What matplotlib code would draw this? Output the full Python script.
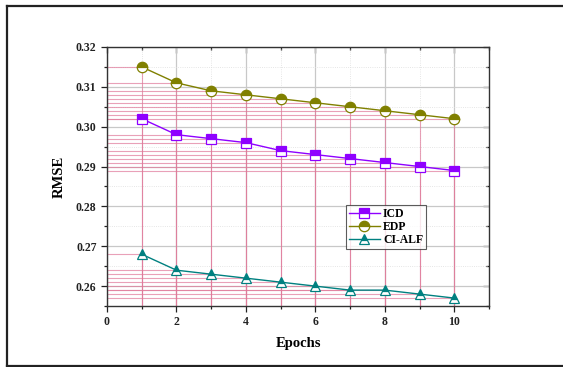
import matplotlib
matplotlib.use("Agg")
from matplotlib import pyplot as plt
from matplotlib.lines import Line2D
from matplotlib.ticker import MultipleLocator

epochs = [1, 2, 3, 4, 5, 6, 7, 8, 9, 10]
icd = [0.302, 0.298, 0.297, 0.296, 0.294, 0.293, 0.292, 0.291, 0.290, 0.289]
edp = [0.315, 0.311, 0.309, 0.308, 0.307, 0.306, 0.305, 0.304, 0.303, 0.302]
cialf = [0.268, 0.264, 0.263, 0.262, 0.261, 0.260, 0.259, 0.259, 0.258, 0.257]

series = [
    ("ICD", icd, "#8f00ff", "s", 6.5),
    ("EDP", edp, "#808000", "o", 7.5),
    ("CI-ALF", cialf, "#008080", "^", 7.5),
]

plt.rcParams["font.family"] = ["Liberation Serif", "DejaVu Serif"]
plt.rcParams["font.weight"] = "bold"

fig = plt.figure(figsize=(5.63, 3.67), dpi=100)
ax = fig.add_axes([0.190, 0.166, 0.679, 0.706])

# outer frame: left, top and bottom edges (right side runs off the image)
x0, y0, y1 = 6.5 / 563, 1.5 / 367, 1 - 5.5 / 367
for xs, ys in [([x0, x0], [y0, y1]), ([x0, 1.0], [y1, y1]), ([x0, 1.0], [y0, y0])]:
    fig.add_artist(Line2D(xs, ys, transform=fig.transFigure,
                          color="#222222", linewidth=1.6))

ax.set_xlim(0, 11)
ax.set_ylim(0.255, 0.32)
ax.xaxis.set_major_locator(MultipleLocator(2))
ax.xaxis.set_minor_locator(MultipleLocator(1))
ax.yaxis.set_major_locator(MultipleLocator(0.01))
ax.yaxis.set_minor_locator(MultipleLocator(0.005))
ax.set_yticklabels([f"{v:.2f}" for v in ax.get_yticks()])

ax.grid(which="major", color="#c8c8c8", linewidth=0.9)
ax.grid(which="minor", color="#dddddd", linewidth=0.6, linestyle=":")
ax.set_axisbelow(True)

pink = "#e07a9a"
for name, vals, col, mk, ms in series:
    for x, y in zip(epochs, vals):
        ax.plot([x, x], [0.255, y], color=pink, lw=0.8, alpha=0.7, zorder=1)
        ax.plot([0, x], [y, y], color=pink, lw=0.8, alpha=0.7, zorder=1)

for name, vals, col, mk, ms in series:
    ax.plot(epochs, vals, color=col, lw=1.0, marker=mk, markersize=ms,
            fillstyle="top", markerfacecolor=col, markerfacecoloralt="white",
            markeredgecolor=col, markeredgewidth=0.9, label=name, zorder=3)

for side in ["left", "bottom", "top", "right"]:
    ax.spines[side].set_linewidth(1.0)
    ax.spines[side].set_color("#333333")

ax.tick_params(which="both", direction="out", top=False, right=False,
               labelsize=8.5, width=0.9, colors="#222222")
ax.tick_params(which="major", length=4)
ax.tick_params(which="minor", length=2.5)
sec = ax.secondary_xaxis("top")
sec.xaxis.set_major_locator(MultipleLocator(2))
sec.xaxis.set_minor_locator(MultipleLocator(1))
sec.tick_params(which="both", direction="in", labeltop=False, width=0.9)
sec.tick_params(which="major", length=4)
sec.tick_params(which="minor", length=2.5)
sec.spines["top"].set_visible(False)
secy = ax.secondary_yaxis("right")
secy.yaxis.set_major_locator(MultipleLocator(0.01))
secy.yaxis.set_minor_locator(MultipleLocator(0.005))
secy.tick_params(which="both", direction="in", labelright=False, width=0.9)
secy.tick_params(which="major", length=4)
secy.tick_params(which="minor", length=2.5)
secy.spines["right"].set_visible(False)

for lbl in ax.get_xticklabels() + ax.get_yticklabels():
    lbl.set_fontweight("bold")

ax.set_xlabel("Epochs", fontsize=10.5, fontweight="bold", labelpad=6)
ax.set_ylabel("RMSE", fontsize=10.5, fontweight="bold", labelpad=7)

leg = ax.legend(loc="upper left", bbox_to_anchor=(0.625, 0.39), fontsize=8.5,
                frameon=True, fancybox=False, edgecolor="#333333",
                borderpad=0.25, labelspacing=0.1, handlelength=2.6,
                handletextpad=0.3, borderaxespad=0)
leg.get_frame().set_linewidth(0.8)
for t in leg.get_texts():
    t.set_fontweight("bold")

fig.savefig("out.png", dpi=100)
